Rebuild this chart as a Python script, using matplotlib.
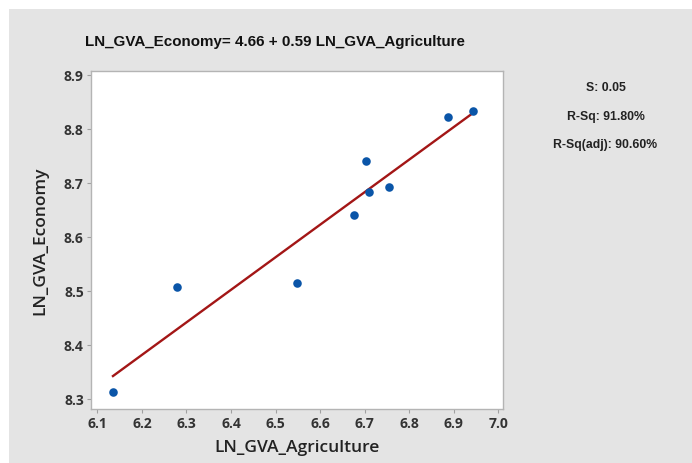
import numpy as np
import matplotlib
matplotlib.use("Agg")
import matplotlib.pyplot as plt
from matplotlib.patches import Rectangle

# log gross value added: agriculture vs whole economy
ln_gva_agriculture = [6.135, 6.278, 6.547, 6.677, 6.703, 6.710, 6.755, 6.887, 6.944]
ln_gva_economy = [8.312, 8.508, 8.515, 8.641, 8.741, 8.683, 8.692, 8.821, 8.832]

x_ticks = [6.1, 6.2, 6.3, 6.4, 6.5, 6.6, 6.7, 6.8, 6.9, 7.0]
y_ticks = [8.3, 8.4, 8.5, 8.6, 8.7, 8.8, 8.9]

title = "LN_GVA_Economy= 4.66 + 0.59 LN_GVA_Agriculture"
stats = ["S: 0.05", "R-Sq: 91.80%", "R-Sq(adj): 90.60%"]

W, H = 692, 464
fig = plt.figure(figsize=(W / 100, H / 100), dpi=100)
fig.patch.set_facecolor("white")
fig.patches.append(Rectangle((9 / W, -0.1), 1.1, 1.1 - 10 / H, transform=fig.transFigure,
                             facecolor="#e4e4e4", edgecolor="none", zorder=-10))

ax = fig.add_axes([90.7 / W, 1 - 409.7 / H, (503.3 - 90.7) / W, (409.7 - 71.7) / H])
ax.set_facecolor("white")

# least-squares fit line over the data range
slope, intercept = np.polyfit(ln_gva_agriculture, ln_gva_economy, 1)
xs = np.array([min(ln_gva_agriculture), max(ln_gva_agriculture)])
ax.plot(xs, intercept + slope * xs, color="#a31616", linewidth=1.7, zorder=2)
ax.scatter(ln_gva_agriculture, ln_gva_economy, s=38, color="#0a55a8", zorder=3,
           linewidths=0)

ax.set_xlim(6.085, 7.011)
ax.set_ylim(8.282, 8.9074)
ax.set_xticks(x_ticks)
ax.set_yticks(y_ticks)
ax.set_xticklabels([f"{v:.1f}" for v in x_ticks])
ax.set_yticklabels([f"{v:.1f}" for v in y_ticks])

for s in ax.spines.values():
    s.set_color("#b4b4b4")
    s.set_linewidth(1.0)
ax.tick_params(direction="out", length=3, width=0.8, color="#a0a0a0",
               labelcolor="#333333", labelsize=10, pad=2)
for lbl in ax.get_xticklabels() + ax.get_yticklabels():
    lbl.set_fontfamily("Open Sans")
    lbl.set_fontweight("bold")

ax.set_xlabel("LN_GVA_Agriculture", fontsize=12.5, family="Open Sans",
              fontweight="semibold", color="#222222", labelpad=7)
ax.set_ylabel("LN_GVA_Economy", fontsize=12.5, family="Open Sans",
              fontweight="semibold", color="#222222", labelpad=11)

fig.text(274.7 / W, 1 - 41.7 / H, title, ha="center", va="center",
         fontsize=10.9, fontweight="bold", family="Liberation Sans", color="#111111")

for txt, y in zip(stats, [87.7, 117.3, 145.0]):
    fig.text(605.5 / W, 1 - y / H, txt, ha="center", va="center",
             fontsize=8.8, fontweight="bold", family="Liberation Sans", color="#222222")

fig.savefig("out.png", dpi=100)
